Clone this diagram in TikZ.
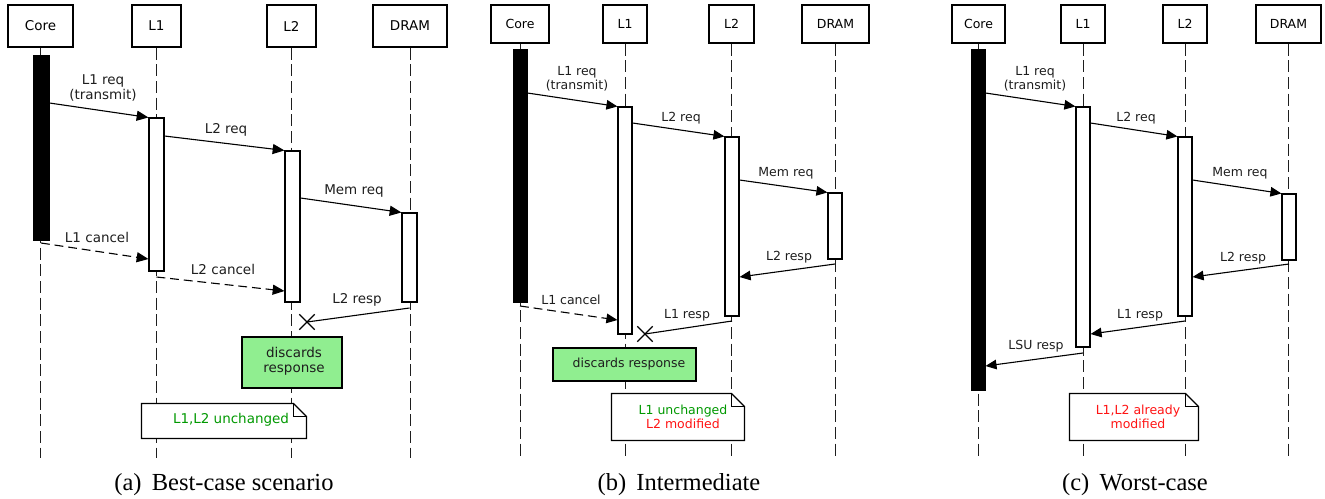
\documentclass[tikz,border=0pt]{standalone}
\usepackage{fontspec}
\setmainfont{Liberation Serif}
\newfontfamily\diafont{DejaVu Sans}
\usepackage{xcolor}
\usetikzlibrary{arrows.meta,fit,shapes.misc}
\definecolor{discardgreen}{RGB}{144,238,144}
\definecolor{keptgreen}{RGB}{0,153,0}
\definecolor{dirtyred}{RGB}{255,20,20}
\definecolor{inkgray}{RGB}{30,30,30}

\begin{document}
\begin{tikzpicture}[x=0.408pt, y=-0.408pt,
    head/.style={draw, line width=0.6pt, fill=white, inner sep=0pt},
    life/.style={line width=0.4pt, draw=inkgray, dash pattern=on 4.8pt off 2pt},
    act/.style={draw, line width=0.45pt, fill=white, inner sep=0pt},
    bar/.style={draw, fill=black, inner sep=0pt},
    msg/.style={line width=0.45pt, -{Triangle[length=4.8pt,width=4.1pt]}},
    cancel/.style={msg, dash pattern=on 3.6pt off 2pt},
    lbl/.style={align=center, inner sep=0pt, text=inkgray},
    drop/.style={cross out, draw, line width=0.5pt, minimum size=5.8pt, inner sep=0pt},
    disc/.style={draw, line width=0.5pt, fill=discardgreen, inner sep=0pt, align=center},
    notebox/.style={draw, line width=0.5pt, fill=white},
    captext/.style={font=\rmfamily\fontsize{10}{12}\selectfont, inner sep=0pt}]

    \useasboundingbox (0,0) rectangle (1325,498);

    % ---------------- (a) Best-case scenario ----------------
    \begin{scope}[font=\diafont\fontsize{5.5}{6.1}\selectfont]
        % Heads and lifelines
        \node[head, fit={(8,5) (73,47)}, label=center:Core] (acore) {};
        \node[head, fit={(132,5) (181,47)}, label=center:L1] (al1) {};
        \node[head, fit={(267,5) (316,47)}, label=center:L2] (al2) {};
        \node[head, fit={(373,5) (447,47)}, label=center:DRAM] (adram) {};
        \foreach \n in {acore,al1,al2,adram}
            \draw[life] (\n.south) -- (\n.south |- 0,458);

        % Activations
        \node[bar, fit={(33,55) (49,240)}] (acorebar) {};
        \node[act, fit={(149,118) (164,271)}] (al1act) {};
        \node[act, fit={(285,151) (300,302)}] (al2act) {};
        \node[act, fit={(402,213) (417,302)}] (adramact) {};

        % Messages
        \draw[msg] (acorebar.east |- 0,103) -- (al1act.north west);
        \node[lbl] (al1req) at (103,88) {L1 req\\(transmit)};
        \draw[msg] (al1act.east |- 0,136) -- (al2act.north west);
        \node[lbl] (al2req) at (226,130) {L2 req};
        \draw[msg] (al2act.east |- 0,198) -- (adramact.north west);
        \node[lbl] (amemreq) at (354,191) {Mem req};
        \draw[cancel] (acorebar.south |- 0,243) -- (al1act.west |- 0,259);
        \node[lbl] (al1cancel) at (97,237) {L1 cancel};
        \draw[cancel] (al1act.south |- 0,277) -- (al2act.west |- 0,291);
        \node[lbl] (al2cancel) at (223,269) {L2 cancel};
        \node[drop] (ax) at (307,322) {};
        \draw[line width=0.45pt] (adramact.south |- 0,308) -- (ax.center);
        \node[lbl] (al2resp) at (357,300) {L2 resp};

        % Discard and note
        \node[disc, fit={(242,337) (342,388)}] (adisc) {};
        \node[lbl] (adisctxt) at (294,361) {discards\\response};
        \node[fit={(142,404) (306,438)}, inner sep=0pt] (anote) {};
        \draw[notebox] (anote.south west) -- (anote.north west) -- ([xshift=-5.3pt]anote.north east)
            -- ([yshift=-5.3pt]anote.north east) -- (anote.south east) -- cycle;
        \draw[line width=0.5pt] ([xshift=-5.3pt]anote.north east) -- ([xshift=-5.3pt,yshift=-5.3pt]anote.north east)
            -- ([yshift=-5.3pt]anote.north east);
        \node[lbl, text=keptgreen] (anotetxt) at (231,420) {L1,L2 unchanged};
    \end{scope}
    \node[captext] (acap) at (224,485) {(a)\, Best-case scenario};

    % ---------------- (b) Intermediate ----------------
    \begin{scope}[font=\diafont\fontsize{5.1}{5.7}\selectfont,
        msg/.append style={-{Triangle[length=4.5pt,width=3.9pt]}}]
        % Heads and lifelines
        \node[head, fit={(491,5) (549,43)}, label=center:Core] (bcore) {};
        \node[head, fit={(603,5) (647,43)}, label=center:L1] (bl1) {};
        \node[head, fit={(709,5) (754,43)}, label=center:L2] (bl2) {};
        \node[head, fit={(802,5) (869,43)}, label=center:DRAM] (bdram) {};
        \foreach \n in {bcore,bl1,bl2,bdram}
            \draw[life] (\n.south) -- (\n.south |- 0,458);

        % Activations
        \node[bar, fit={(513,49) (527,302)}] (bcorebar) {};
        \node[act, fit={(618,107) (632,334)}] (bl1act) {};
        \node[act, fit={(725,137) (739,316)}] (bl2act) {};
        \node[act, fit={(828,193) (842,259)}] (bdramact) {};

        % Messages
        \draw[msg] (bcorebar.east |- 0,93) -- (bl1act.north west);
        \node[lbl] (bl1req) at (577,79) {L1 req\\(transmit)};
        \draw[msg] (bl1act.east |- 0,123) -- (bl2act.north west);
        \node[lbl] (bl2req) at (681,118) {L2 req};
        \draw[msg] (bl2act.east |- 0,180) -- (bdramact.north west);
        \node[lbl] (bmemreq) at (786,173) {Mem req};
        \draw[msg] (bdramact.south |- 0,264) -- (bl2act.east |- 0,277);
        \node[lbl] (bl2resp) at (789,257) {L2 resp};
        \draw[cancel] (bcorebar.south |- 0,306) -- (bl1act.west |- 0,320);
        \node[lbl] (bl1cancel) at (571,300) {L1 cancel};
        \node[drop] (bx) at (645,334) {};
        \draw[line width=0.45pt] (bl2act.south |- 0,321) -- (bx.center);
        \node[lbl] (bl1resp) at (687,315) {L1 resp};

        % Discard and note
        \node[disc, fit={(553,348) (696,381)}] (bdisc) {};
        \node[lbl] (bdisctxt) at (629,364) {discards response};
        \node[fit={(612,394) (744,440)}, inner sep=0pt] (bnote) {};
        \draw[notebox] (bnote.south west) -- (bnote.north west) -- ([xshift=-5.3pt]bnote.north east)
            -- ([yshift=-5.3pt]bnote.north east) -- (bnote.south east) -- cycle;
        \draw[line width=0.5pt] ([xshift=-5.3pt]bnote.north east) -- ([xshift=-5.3pt,yshift=-5.3pt]bnote.north east)
            -- ([yshift=-5.3pt]bnote.north east);
        \node[lbl] (bnotetxt) at (683,417) {\textcolor{keptgreen}{L1 unchanged}\\\textcolor{dirtyred}{L2 modified}};
    \end{scope}
    \node[captext] (bcap) at (679,485) {(b)\, Intermediate};

    % ---------------- (c) Worst-case ----------------
    \begin{scope}[font=\diafont\fontsize{5.1}{5.7}\selectfont,
        msg/.append style={-{Triangle[length=4.5pt,width=3.9pt]}}]
        % Heads and lifelines
        \node[head, fit={(952,5) (1005,43)}, label=center:Core] (ccore) {};
        \node[head, fit={(1061,5) (1105,43)}, label=center:L1] (cl1) {};
        \node[head, fit={(1163,5) (1207,43)}, label=center:L2] (cl2) {};
        \node[head, fit={(1256,5) (1321,43)}, label=center:DRAM] (cdram) {};
        \foreach \n in {ccore,cl1,cl2,cdram}
            \draw[life] (\n.south) -- (\n.south |- 0,458);

        % Activations
        \node[bar, fit={(971,49) (985,390)}] (ccorebar) {};
        \node[act, fit={(1076,107) (1090,347)}] (cl1act) {};
        \node[act, fit={(1178,137) (1192,316)}] (cl2act) {};
        \node[act, fit={(1282,194) (1296,260)}] (cdramact) {};

        % Messages
        \draw[msg] (ccorebar.east |- 0,93) -- (cl1act.north west);
        \node[lbl] (cl1req) at (1035,79) {L1 req\\(transmit)};
        \draw[msg] (cl1act.east |- 0,123) -- (cl2act.north west);
        \node[lbl] (cl2req) at (1136,118) {L2 req};
        \draw[msg] (cl2act.east |- 0,180) -- (cdramact.north west);
        \node[lbl] (cmemreq) at (1240,173) {Mem req};
        \draw[msg] (cdramact.south |- 0,264) -- (cl2act.east |- 0,277);
        \node[lbl] (cl2resp) at (1243,258) {L2 resp};
        \draw[msg] (cl2act.south |- 0,321) -- (cl1act.east |- 0,334);
        \node[lbl] (cl1resp) at (1140,315) {L1 resp};
        \draw[msg] (cl1act.south |- 0,353) -- (ccorebar.east |- 0,366);
        \node[lbl] (clsuresp) at (1036,346) {LSU resp};

        % Note
        \node[fit={(1070,394) (1198,440)}, inner sep=0pt] (cnote) {};
        \draw[notebox] (cnote.south west) -- (cnote.north west) -- ([xshift=-5.3pt]cnote.north east)
            -- ([yshift=-5.3pt]cnote.north east) -- (cnote.south east) -- cycle;
        \draw[line width=0.5pt] ([xshift=-5.3pt]cnote.north east) -- ([xshift=-5.3pt,yshift=-5.3pt]cnote.north east)
            -- ([yshift=-5.3pt]cnote.north east);
        \node[lbl, text=dirtyred] (cnotetxt) at (1138,417) {L1,L2 already\\modified};
    \end{scope}
    \node[captext] (ccap) at (1135,485) {(c)\, Worst-case};
\end{tikzpicture}
\end{document}
